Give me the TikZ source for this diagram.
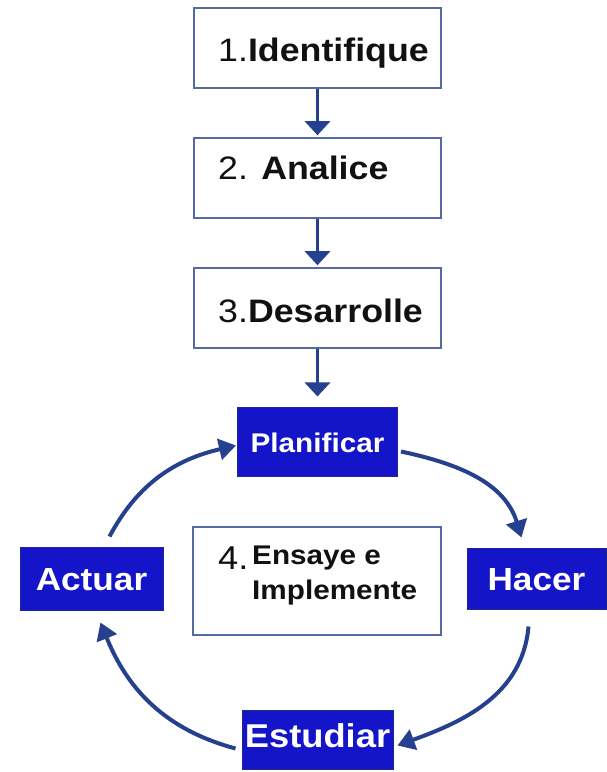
\documentclass[tikz,border=0pt]{standalone}
\usepackage{fontspec}
\setmainfont{Liberation Sans}[FakeStretch=1.1]
\usetikzlibrary{arrows.meta}
\definecolor{boxblue}{RGB}{20,20,200}
\definecolor{boxedge}{RGB}{30,40,140}
\definecolor{frameblue}{RGB}{85,105,165}
\definecolor{arrowblue}{RGB}{37,64,143}
\definecolor{txt}{RGB}{17,17,17}
\newcommand{\fs}[1]{\fontsize{#1pt}{#1pt}\selectfont}
\tikzset{
  whitebox/.style={draw=frameblue, line width=1.6pt, fill=white, minimum width=247pt, minimum height=80pt, inner sep=0pt},
  bluebox/.style={draw=boxedge, line width=1pt, fill=boxblue, text=white, font=\bfseries, inner sep=0pt},
  steptext/.style={anchor=base west, text=txt, inner sep=0pt},
  flowarrow/.style={draw=arrowblue, line width=3.6pt, -{Triangle[length=14pt,width=25pt]}},
  cyclearrow/.style={draw=arrowblue, line width=4pt, -{Triangle[length=17pt,width=21pt]}}
}
\begin{document}
\begin{tikzpicture}[x=1pt,y=1pt]
\useasboundingbox (0,0) rectangle (606,772);
% top boxes
\node[whitebox] (b1) at (317.5,724) {};
\node[whitebox] (b2) at (317.5,594) {};
\node[whitebox] (b3) at (317.5,464) {};
\node[steptext] (t1) at (218,710) {\fs{32.5}1.\textbf{Identifique}};
\node[steptext] (t2) at (218,592) {\fs{32.5}2. \textbf{Analice}};
\node[steptext] (t3) at (218,449) {\fs{32.5}3.\textbf{Desarrolle}};
% cycle boxes
\node[bluebox, minimum width=160pt, minimum height=69pt] (plan) at (317.5,329.5) {\fs{27}Planificar};
\node[bluebox, minimum width=143pt, minimum height=63pt] (act) at (91.5,192.5) {\fs{32}Actuar};
\node[bluebox, minimum width=139pt, minimum height=61pt] (hac) at (536.5,192.5) {\fs{32}Hacer};
\node[bluebox, minimum width=151pt, minimum height=59pt] (est) at (317.5,31.5) {\fs{33}\raisebox{9pt}{Estudiar}};
% center box
\node[draw=frameblue, line width=1.6pt, fill=white, minimum width=248pt, minimum height=108pt, inner sep=0pt] (c4) at (317,191) {};
\node[steptext] (c4num) at (218,202) {\fs{33}4.};
\node[steptext] (c4a) at (252,207) {\fs{27}\textbf{Ensaye e}};
\node[steptext] (c4b) at (252,172) {\fs{27}\textbf{Implemente}};
% straight arrows
\draw[flowarrow, shorten >=2pt] (b1.south) -- (b2.north);
\draw[flowarrow, shorten >=2pt] (b2.south) -- (b3.north);
\draw[flowarrow, shorten >=11pt] (b3.south) -- (plan.north);
% cycle arrows
\coordinate (a1s) at ([xshift=18pt,yshift=11pt]act.north);
\draw[cyclearrow] (a1s) to[out=62,in=193] ([xshift=-1pt,yshift=-3pt]plan.west);
\coordinate (a2s) at ([xshift=3pt,yshift=-9pt]plan.east);
\draw[cyclearrow] (a2s) to[out=-12,in=107] ([xshift=-15pt,yshift=11pt]hac.north);
\coordinate (a3s) at ([xshift=-8pt,yshift=-16pt]hac.south);
\draw[cyclearrow] (a3s) to[out=-95,in=20] ([xshift=4pt,yshift=-5pt]est.east);
\coordinate (a4s) at ([xshift=-6pt,yshift=-8pt]est.west);
\draw[cyclearrow] (a4s) to[out=165,in=-68] ([xshift=9pt,yshift=-11pt]act.south);
\end{tikzpicture}
\end{document}
